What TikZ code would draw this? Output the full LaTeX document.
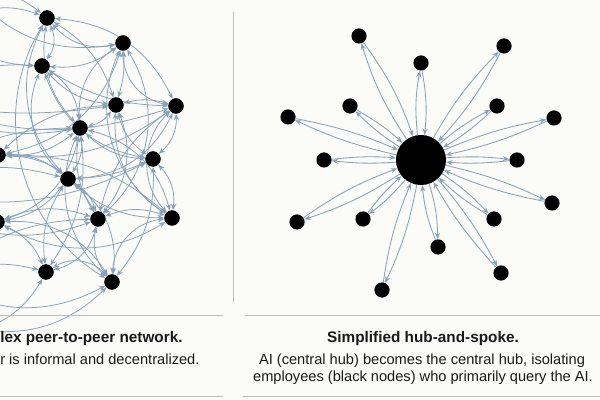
\documentclass[tikz,border=0pt]{standalone}
\usepackage{fontspec}
\setmainfont{Liberation Sans}
\usetikzlibrary{arrows.meta}
\definecolor{paper}{HTML}{FBFBF8}
\definecolor{linkblue}{HTML}{86A2BA}
\definecolor{rulegray}{HTML}{BDBDBD}
\definecolor{ink}{HTML}{1A1A1A}
\begin{document}
\begin{tikzpicture}[x=0.025cm, y=-0.025cm, line cap=round, line join=round,
		>={Stealth[length=4.5pt,width=3.6pt]},
		dot/.style={circle, fill=black, inner sep=0pt, minimum size=0.38cm},
		hubdot/.style={circle, fill=black, inner sep=0pt, minimum size=1.25cm},
		link/.style={<->, draw=linkblue, line width=0.55pt},
		spoke/.style={->, draw=linkblue, line width=0.6pt},
		rule/.style={draw=rulegray, line width=0.6pt},
		title/.style={font=\bfseries\fontsize{10.9}{13}\selectfont, text=ink, inner sep=0pt},
		body/.style={font=\fontsize{10.4}{12.5}\selectfont, text=ink, inner sep=0pt}]
	\useasboundingbox (0,0) rectangle (600,400);
	\fill[paper] (0,0) rectangle (600,400);
	\begin{scope}
		\clip (0,0) rectangle (600,400);
		% peer-to-peer network (left)
		\node[dot] (a) at (47,18) {};
		\node[dot] (b) at (123,43) {};
		\node[dot] (c) at (42,66) {};
		\node[dot] (d) at (116,105) {};
		\node[dot] (e) at (176,106) {};
		\node[dot] (f) at (80,128) {};
		\node[dot] (g) at (-2,155) {};
		\node[dot] (h) at (153,159) {};
		\node[dot] (i) at (68,179) {};
		\node[dot] (j) at (-3,222) {};
		\node[dot] (k) at (98,219) {};
		\node[dot] (l) at (172,218) {};
		\node[dot] (m) at (46,272) {};
		\node[dot] (n) at (112,282) {};
		\coordinate (q1) at (-50,30);
		\coordinate (q2) at (-80,100);
		\coordinate (q3) at (-90,190);
		\coordinate (q4) at (-60,280);
		\coordinate (q5) at (-20,330);
		\coordinate (q6) at (-30,-10);
		\foreach \u/\v/\b in {a/b/-30, b/e/-40, e/l/-45, l/n/-40, n/m/-40,
			a/c/30, a/d/20, a/f/-25, a/e/30, b/c/20, b/d/10, b/f/-30, c/d/-20,
			c/f/25, c/e/-15, c/i/-35, d/e/15, d/f/20, d/h/-20, d/k/30, d/l/-30,
			e/h/25, e/i/30, e/k/-20, f/h/-20, f/i/20, f/k/-20, f/l/30, f/n/-35,
			f/m/20, i/k/20, i/l/-20, i/n/30, i/m/-20, i/h/-10, k/l/20, k/n/-25,
			k/m/30, h/n/20, h/l/25, b/k/40, a/i/-35, c/h/-30, b/l/-40, a/n/-45,
			g/d/20, g/f/-20, g/b/-30, g/i/20, g/k/30, g/e/-20, g/l/20,
			j/i/-20, j/k/20, j/l/-30, j/m/20, j/f/-30, j/n/30,
			q1/a/30, q1/c/-20, q2/c/20, q2/f/-20, q2/d/-10, q2/e/-20,
			q3/i/20, q3/k/-30, q3/f/20, q3/h/-20, q4/m/20, q4/n/-30, q4/k/20,
			q5/m/-20, q5/n/-25, q6/a/20, q6/b/-30}
			{\draw[link] (\u) to[bend left=\b] (\v);}
		\foreach \u in {a,b,c,d,e,f,g,h,i,j,k,l,m,n}{\fill (\u) circle (7.6);}
	\end{scope}
	% divider and rules
	\draw[rule] (233,12) -- (233,302);
	\draw[rule] (0,315) -- (223,315);
	\draw[rule] (245,315) -- (600,315);
	\draw[rule] (0,396) -- (223,396);
	\draw[rule] (243,396) -- (600,396);
	% hub-and-spoke (right)
	\node[hubdot] (ai) at (421,160) {};
	\node[dot] (s1) at (359,36) {};
	\node[dot] (s2) at (421,63) {};
	\node[dot] (s3) at (504,46) {};
	\node[dot] (s4) at (350,106) {};
	\node[dot] (s5) at (497,106) {};
	\node[dot] (s6) at (288,117) {};
	\node[dot] (s7) at (554,118) {};
	\node[dot] (s8) at (324,160) {};
	\node[dot] (s9) at (517,160) {};
	\node[dot] (s10) at (297,222) {};
	\node[dot] (s11) at (552,203) {};
	\node[dot] (s12) at (363,219) {};
	\node[dot] (s13) at (494,219) {};
	\node[dot] (s14) at (438,247) {};
	\node[dot] (s15) at (501,273) {};
	\node[dot] (s16) at (382,290) {};
	\foreach \s/\b in {s1/8, s2/8, s3/7, s4/6, s5/6, s6/6, s7/6, s8/5,
		s9/5, s10/7, s11/6, s12/6, s13/6, s14/8, s15/6, s16/7}{
		\draw[spoke] (ai) to[bend left=\b] (\s);
		\draw[spoke] (\s) to[bend left=\b] (ai);
	}
	% captions
	\node[title, anchor=base west] (lt) at (0,343) {lex peer-to-peer network.};
	\node[body, anchor=base west] (ls) at (0,365) {r is informal and decentralized.};
	\node[title, anchor=base] (rt) at (423,343) {Simplified hub-and-spoke.};
	\node[body, anchor=base] (rs1) at (422,365) {AI (central hub) becomes the central hub, isolating};
	\node[body, anchor=base] (rs2) at (423,382) {employees (black nodes) who primarily query the AI.};
\end{tikzpicture}
\end{document}
